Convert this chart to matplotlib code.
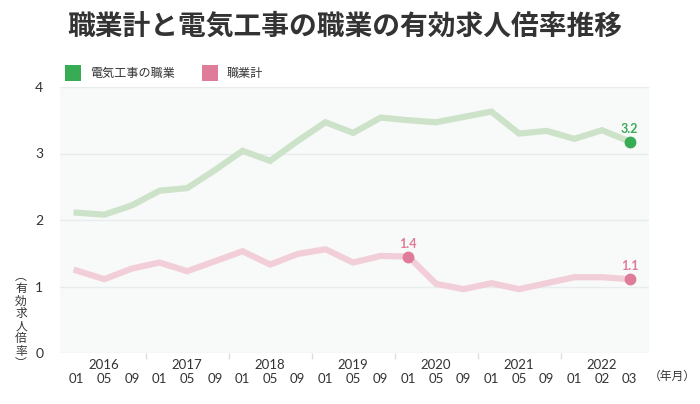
import matplotlib
matplotlib.use("Agg")
import matplotlib.pyplot as plt
import matplotlib.transforms as mtransforms
from matplotlib.patches import Rectangle

plt.rcParams['font.family'] = ['Noto Sans CJK JP', 'DejaVu Sans']

months = ["01", "05", "09", "01", "05", "09", "01", "05", "09", "01", "05", "09",
          "01", "05", "09", "01", "05", "09", "01", "02", "03"]
years = ["2016", "2017", "2018", "2019", "2020", "2021", "2022"]
denki = [2.11, 2.08, 2.22, 2.44, 2.48, 2.75, 3.04, 2.89, 3.19, 3.47, 3.31, 3.54,
         3.50, 3.47, 3.55, 3.63, 3.30, 3.34, 3.22, 3.35, 3.18]
shokugyo = [1.24, 1.11, 1.27, 1.36, 1.23, 1.38, 1.53, 1.33, 1.49, 1.56, 1.36, 1.46,
            1.45, 1.04, 0.96, 1.05, 0.96, 1.05, 1.14, 1.14, 1.11]
labels_denki = {20: "3.2"}
labels_shokugyo = {12: "1.4", 20: "1.1"}

GREEN_LINE = "#cde3c9"
GREEN = "#38ab55"
PINK_LINE = "#f2cfd8"
PINK = "#df7c99"
NUMFONT = ["Lato", "DejaVu Sans"]

fig = plt.figure(figsize=(7.0, 4.04), dpi=100)
ax = fig.add_axes([60/700, 1-353/404, (649-60)/700, (353-87)/404])
ax.set_facecolor("#f8fafa")
x = list(range(len(months)))

ax.plot(x, denki, color=GREEN_LINE, lw=4.5, solid_joinstyle="miter", zorder=3)
ax.plot(x, shokugyo, color=PINK_LINE, lw=4.5, solid_joinstyle="miter", zorder=3)
for i, t in labels_denki.items():
    ax.plot(x[i], denki[i], "o", color=GREEN, ms=7.5, zorder=4)
    ax.annotate(t, (x[i], denki[i]), xytext=(0, 5), textcoords="offset points",
                ha="center", va="bottom", color=GREEN, fontsize=9, fontweight="bold",
                family=NUMFONT)
for i, t in labels_shokugyo.items():
    ax.plot(x[i], shokugyo[i], "o", color=PINK, ms=7.5, zorder=4)
    ax.annotate(t, (x[i], shokugyo[i]), xytext=(0, 5), textcoords="offset points",
                ha="center", va="bottom", color=PINK, fontsize=9, fontweight="bold",
                family=NUMFONT)

ax.set_xlim(-0.6, 20.7)
ax.set_ylim(0, 4)
ax.set_yticks([0, 1, 2, 3, 4])
ax.set_yticklabels(["0", "1", "2", "3", "4"], family=NUMFONT,
                   fontsize=10, color="#333333")
ax.tick_params(axis="y", length=0, pad=12)
ax.grid(axis="y", color="#e8ecec", lw=1)
ax.set_axisbelow(True)
for s in ax.spines.values():
    s.set_visible(False)

# x ticks: separators between year groups
ax.set_xticks([2.5, 5.5, 8.5, 11.5, 14.5, 17.5])
ax.set_xticklabels([])
ax.tick_params(axis="x", length=4, color="#dddddd", width=1)

trans = mtransforms.blended_transform_factory(ax.transData, fig.transFigure)
for i, m in enumerate(months):
    ax.text(i, 1-379/404, m, transform=trans, ha="center", va="center",
            fontsize=9.5, color="#333333", family=NUMFONT)
year_pos = [1, 4, 7, 10, 13, 16, 19]
for p, yv in zip(year_pos, years):
    ax.text(p, 1-365/404, yv, transform=trans, ha="center", va="center",
            fontsize=9.5, color="#333333", family=NUMFONT)
fig.text(672/700, 1-376/404, "（年月）", ha="center", va="center", fontsize=8.5,
         color="#333333")

# y label vertical stacked
fig.text(21/700, 1-320/404, "︵\n有\n効\n求\n人\n倍\n率\n︶", ha="center", va="center",
         fontsize=8.5, color="#333333", linespacing=0.95)

# title
fig.text(67/700, 1-27/404, "職業計と電気工事の職業の有効求人倍率推移", ha="left",
         va="center", fontsize=20, fontweight="bold", color="#333333")

# legend
fig.patches.append(Rectangle((65/700, 1-81/404), 16/700, 16/404, transform=fig.transFigure,
                             facecolor=GREEN, edgecolor="none"))
fig.text(90/700, 1-73/404, "電気工事の職業", ha="left", va="center", fontsize=8.7,
         color="#333333")
fig.patches.append(Rectangle((202/700, 1-81/404), 16/700, 16/404, transform=fig.transFigure,
                             facecolor=PINK, edgecolor="none"))
fig.text(227/700, 1-73/404, "職業計", ha="left", va="center", fontsize=8.7,
         color="#333333")

fig.savefig("out.png", dpi=100, facecolor="white")
